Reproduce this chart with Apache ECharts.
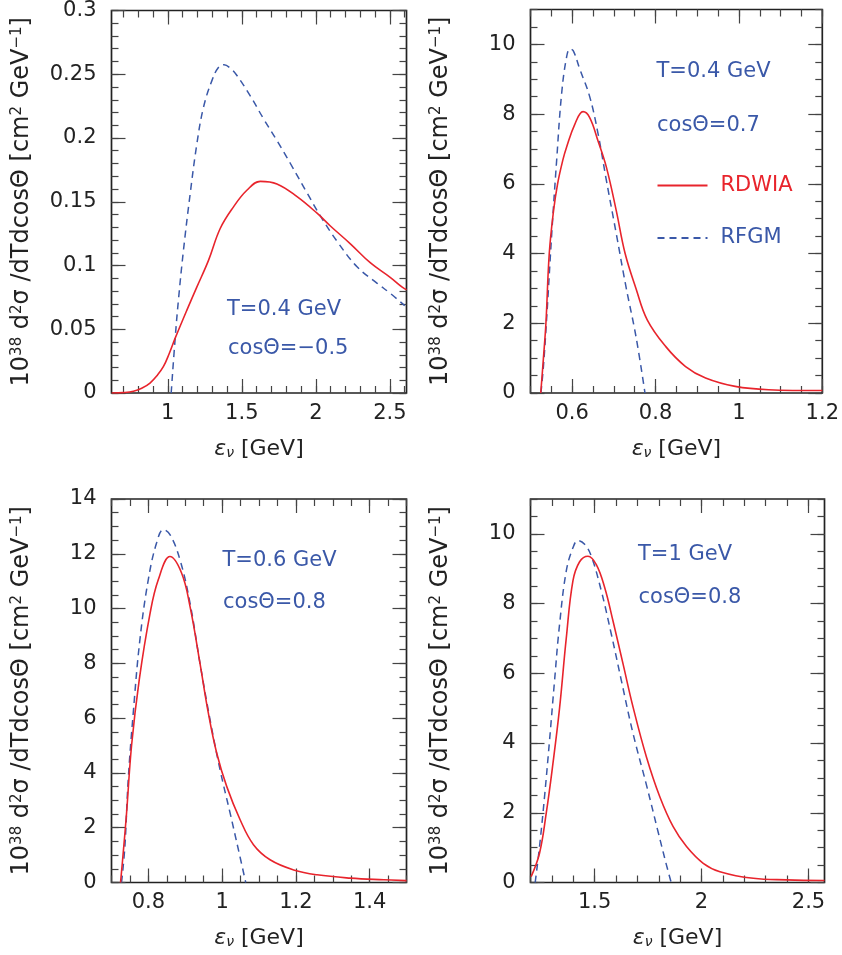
<!DOCTYPE html>
<html><head><meta charset="utf-8">
<script src="https://cdn.jsdelivr.net/npm/echarts@6/dist/echarts.min.js"></script>
<style>html,body{margin:0;padding:0;background:#fff}#c{width:842px;height:955px}</style>
</head><body><div id="c"></div>
<script>
// ---------------- data ----------------
// Panel 1: T=0.4 GeV, cos=-0.5
const p1Red = [[0.621,0],[0.70,0.0003],[0.768,0.0013],[0.824,0.0037],[0.880,0.0078],[0.930,0.0140],[0.971,0.0208],[1.010,0.031],[1.050,0.043],[1.129,0.065],[1.196,0.083],[1.275,0.104],[1.354,0.129],[1.444,0.146],[1.534,0.159],[1.625,0.166],[1.737,0.164],[1.873,0.154],[2.008,0.141],[2.098,0.131],[2.233,0.117],[2.369,0.102],[2.504,0.0905],[2.583,0.083],[2.612,0.081]];
const p1Blue = [[1.023,0],[1.050,0.043],[1.072,0.073],[1.106,0.112],[1.151,0.156],[1.196,0.195],[1.241,0.224],[1.298,0.245],[1.343,0.2555],[1.38,0.2575],[1.42,0.255],[1.467,0.249],[1.557,0.233],[1.647,0.215],[1.737,0.198],[1.828,0.180],[1.940,0.157],[2.030,0.139],[2.143,0.119],[2.278,0.099],[2.414,0.086],[2.504,0.078],[2.60,0.0685]];
// Panel 2: T=0.4 GeV, cos=0.7
const p2Red = [[0.5246,0],[0.531,1.0],[0.537,2.0],[0.545,4.0],[0.555,5.2],[0.565,6.0],[0.578,6.7],[0.5865,7.05],[0.606,7.7],[0.626,8.07],[0.642,7.9],[0.662,7.23],[0.682,6.48],[0.7056,5.24],[0.727,4.0],[0.753,3.0],[0.78,2.1],[0.8246,1.33],[0.872,0.76],[0.92,0.43],[0.991,0.19],[1.071,0.095],[1.2,0.07]];
const p2Blue = [[0.525,0],[0.531,0.76],[0.539,2.19],[0.551,4.58],[0.5627,6.67],[0.5746,8.58],[0.5865,9.63],[0.5944,9.87],[0.6024,9.82],[0.618,9.3],[0.642,8.5],[0.662,7.44],[0.682,6.1],[0.7056,4.58],[0.729,3.05],[0.753,1.62],[0.7746,0]];
// Panel 3: T=0.6 GeV, cos=0.8
const p3Red = [[0.7245,0],[0.7317,1.07],[0.7408,2.53],[0.7544,5.0],[0.7752,7.4],[0.8042,9.8],[0.8268,11.05],[0.8586,11.9],[0.890,11.3],[0.9129,10.08],[0.940,8.0],[0.9627,6.18],[0.9854,4.72],[1.0126,3.5],[1.0488,2.29],[1.085,1.38],[1.130,0.83],[1.194,0.46],[1.2575,0.28],[1.3478,0.16],[1.4384,0.10],[1.5,0.07]];
const p3Blue = [[0.7272,0],[0.7362,1.3],[0.7453,3.75],[0.7589,6.18],[0.777,8.86],[0.7997,11.05],[0.8223,12.4],[0.8404,12.88],[0.8586,12.7],[0.8858,11.78],[0.9129,10.2],[0.940,8.0],[0.9673,5.94],[0.9945,4.11],[1.0217,2.53],[1.0443,1.19],[1.064,0]];
// Panel 4: T=1 GeV, cos=0.8
const p4Red = [[1.2031,0.17],[1.2422,0.84],[1.2734,1.98],[1.3047,3.4],[1.3359,5.0],[1.3672,7.0],[1.3984,8.65],[1.4297,9.2],[1.4688,9.36],[1.5078,9.12],[1.5469,8.46],[1.5859,7.5],[1.6328,6.27],[1.6797,5.03],[1.7422,3.6],[1.8047,2.46],[1.8672,1.6],[1.9297,1.03],[2.0078,0.55],[2.0859,0.31],[2.2422,0.12],[2.3984,0.076],[2.575,0.057]];
const p4Blue = [[1.2219,0],[1.2422,1.03],[1.2656,2.46],[1.2891,4.08],[1.3125,5.79],[1.3359,7.4],[1.3672,8.93],[1.3984,9.6],[1.4219,9.81],[1.4531,9.7],[1.4844,9.36],[1.5313,8.36],[1.5781,7.12],[1.625,5.79],[1.6797,4.27],[1.7422,2.8],[1.7969,1.45],[1.836,0.5],[1.858,0]];

// tick labels
const p1XLabels = [1, 1.5, 2, 2.5];
const p1YLabels = [0, 0.05, 0.1, 0.15, 0.2, 0.25, 0.3];
const p2XLabels = [0.6, 0.8, 1, 1.2];
const p2YLabels = [0, 2, 4, 6, 8, 10];
const p3XLabels = [0.8, 1, 1.2, 1.4];
const p3YLabels = [0, 2, 4, 6, 8, 10, 12, 14];
const p4XLabels = [1.5, 2, 2.5];
const p4YLabels = [0, 2, 4, 6, 8, 10];

const seriesNames = ['RDWIA', 'RFGM'];
const annotations = [
  ['T=0.4 GeV', 'cosΘ=−0.5'],
  ['T=0.4 GeV', 'cosΘ=0.7'],
  ['T=0.6 GeV', 'cosΘ=0.8'],
  ['T=1 GeV', 'cosΘ=0.8']
];

// ---------------- layout & style ----------------
const RED = '#e8242c', BLUE = '#3a58a8', INK = '#222', TICK = '#444';
const FONT = 'DejaVu Sans';
const panels = [
  { grid:{left:111.5, top:9.5, width:295, height:383.5}, x:[0.62,2.612], y:[0,0.3], xl:p1XLabels, yl:p1YLabels, xs:0.1, ys:0.01, red:p1Red, blue:p1Blue, ann:[[227,310],[228,349]] },
  { grid:{left:530.5, top:9.5, width:294, height:383.5}, x:[0.5,1.2], y:[0,11], xl:p2XLabels, yl:p2YLabels, xs:0.05, ys:0.5, red:p2Red, blue:p2Blue, ann:[[656.5,72],[657,125.5]] },
  { grid:{left:111.5, top:499, width:295, height:383.5}, x:[0.7,1.5], y:[0,14], xl:p3XLabels, yl:p3YLabels, xs:0.05, ys:0.5, red:p3Red, blue:p3Blue, ann:[[222.5,561],[223,602.5]] },
  { grid:{left:530.5, top:499, width:294, height:383.5}, x:[1.2,2.575], y:[0,11], xl:p4XLabels, yl:p4YLabels, xs:0.1, ys:0.5, red:p4Red, blue:p4Blue, ann:[[638,555],[638.5,597.5]] }
];

function steps(min, max, step) {
  const out = [];
  const k0 = Math.ceil(min / step - 1e-9), k1 = Math.floor(max / step + 1e-9);
  for (let k = k0; k <= k1; k++) out.push(+(k * step).toFixed(6));
  return out;
}
const fmt = v => String(+(+v).toFixed(4));

const grids = [], xAxes = [], yAxes = [], series = [], graphics = [];
const yName = '{n|10}{s|38}{n| d}{s|2}{n|σ /dTdcosΘ [cm}{s|2}{n| GeV}{s|−1}{n|]}';
const xName = '{e|ε}{v|ν}{n| [GeV]}';

panels.forEach((p, g) => {
  grids.push(Object.assign({ show:true, borderColor:'#222', borderWidth:1.7, backgroundColor:'transparent', containLabel:false }, p.grid));
  const xMinor = steps(p.x[0], p.x[1], p.xs), yMinor = steps(p.y[0], p.y[1], p.ys);
  const mk = (type, pos, ticks, len, labels) => {
    const ax = {
      type:'value', gridIndex:g, min: type==='x'?p.x[0]:p.y[0], max: type==='x'?p.x[1]:p.y[1],
      position:pos, axisLine:{show:false, onZero:false}, splitLine:{show:false},
      axisTick:{show:true, inside:true, length:len, customValues:ticks, lineStyle:{color:TICK, width:1.2}},
      axisLabel:{show:false}, silent:true
    };
    if (labels) {
      ax.axisLabel = { show:true, customValues:labels, formatter:fmt, margin: type==='x'?10:15,
        fontFamily:FONT, fontSize:21, color:INK, showMinLabel:true, showMaxLabel:true };
    }
    return ax;
  };
  const bx = mk('x','bottom', p.xl, 14, p.xl);
  bx.name = xName; bx.nameLocation = 'middle'; bx.nameGap = 45;
  bx.nameTextStyle = { fontFamily:FONT, fontSize:22, color:INK, rich:{
    n:{fontFamily:FONT, fontSize:22, color:INK},
    e:{fontFamily:FONT, fontSize:22, color:INK, fontStyle:'italic'},
    v:{fontFamily:FONT, fontSize:14, color:INK, fontStyle:'italic', verticalAlign:'bottom'} } };
  xAxes.push(bx, mk('x','bottom', xMinor, 7), mk('x','top', p.xl, 14), mk('x','top', xMinor, 7));
  const ly = mk('y','left', p.yl, 14, p.yl);
  ly.name = yName; ly.nameLocation = 'middle'; ly.nameGap = 78; ly.nameRotate = 90;
  ly.nameTextStyle = { fontFamily:FONT, fontSize:24, color:INK, rich:{
    n:{fontFamily:FONT, fontSize:24, color:INK},
    s:{fontFamily:FONT, fontSize:15, color:INK, verticalAlign:'top'} } };
  yAxes.push(ly, mk('y','left', yMinor, 7), mk('y','right', p.yl, 14), mk('y','right', yMinor, 7));

  series.push({ type:'line', name:seriesNames[0], xAxisIndex:4*g, yAxisIndex:4*g, data:p.red,
    symbol:'none', smooth:0.4, clip:true, z:4,
    lineStyle:{color:RED, width:1.6}, itemStyle:{color:RED} });
  series.push({ type:'line', name:seriesNames[1], xAxisIndex:4*g, yAxisIndex:4*g, data:p.blue,
    symbol:'none', smooth:0.4, clip:true, z:3,
    lineStyle:{color:BLUE, width:1.5, type:[7,5]}, itemStyle:{color:BLUE} });

  annotations[g].forEach((t, i) => {
    graphics.push({ type:'text', x:p.ann[i][0], y:p.ann[i][1], silent:true,
      style:{ text:t, fill:BLUE, fontFamily:FONT, fontSize:21, align:'left', verticalAlign:'middle' } });
  });
});

const chart = echarts.init(document.getElementById('c'), null, {renderer:'canvas'});
chart.setOption({
  animation:false,
  backgroundColor:'#fff',
  grid:grids, xAxis:xAxes, yAxis:yAxes, series:series, graphic:graphics,
  legend:{
    data:[{name:'RDWIA', textStyle:{color:RED}}, {name:'RFGM', textStyle:{color:BLUE}}],
    orient:'vertical', left:656.5, top:175, padding:0, itemWidth:50, itemHeight:14, itemGap:31.5,
    selectedMode:false, itemStyle:{opacity:0},
    textStyle:{fontFamily:FONT, fontSize:21, padding:[0,0,0,8]}
  }
});
</script>
</body></html>
